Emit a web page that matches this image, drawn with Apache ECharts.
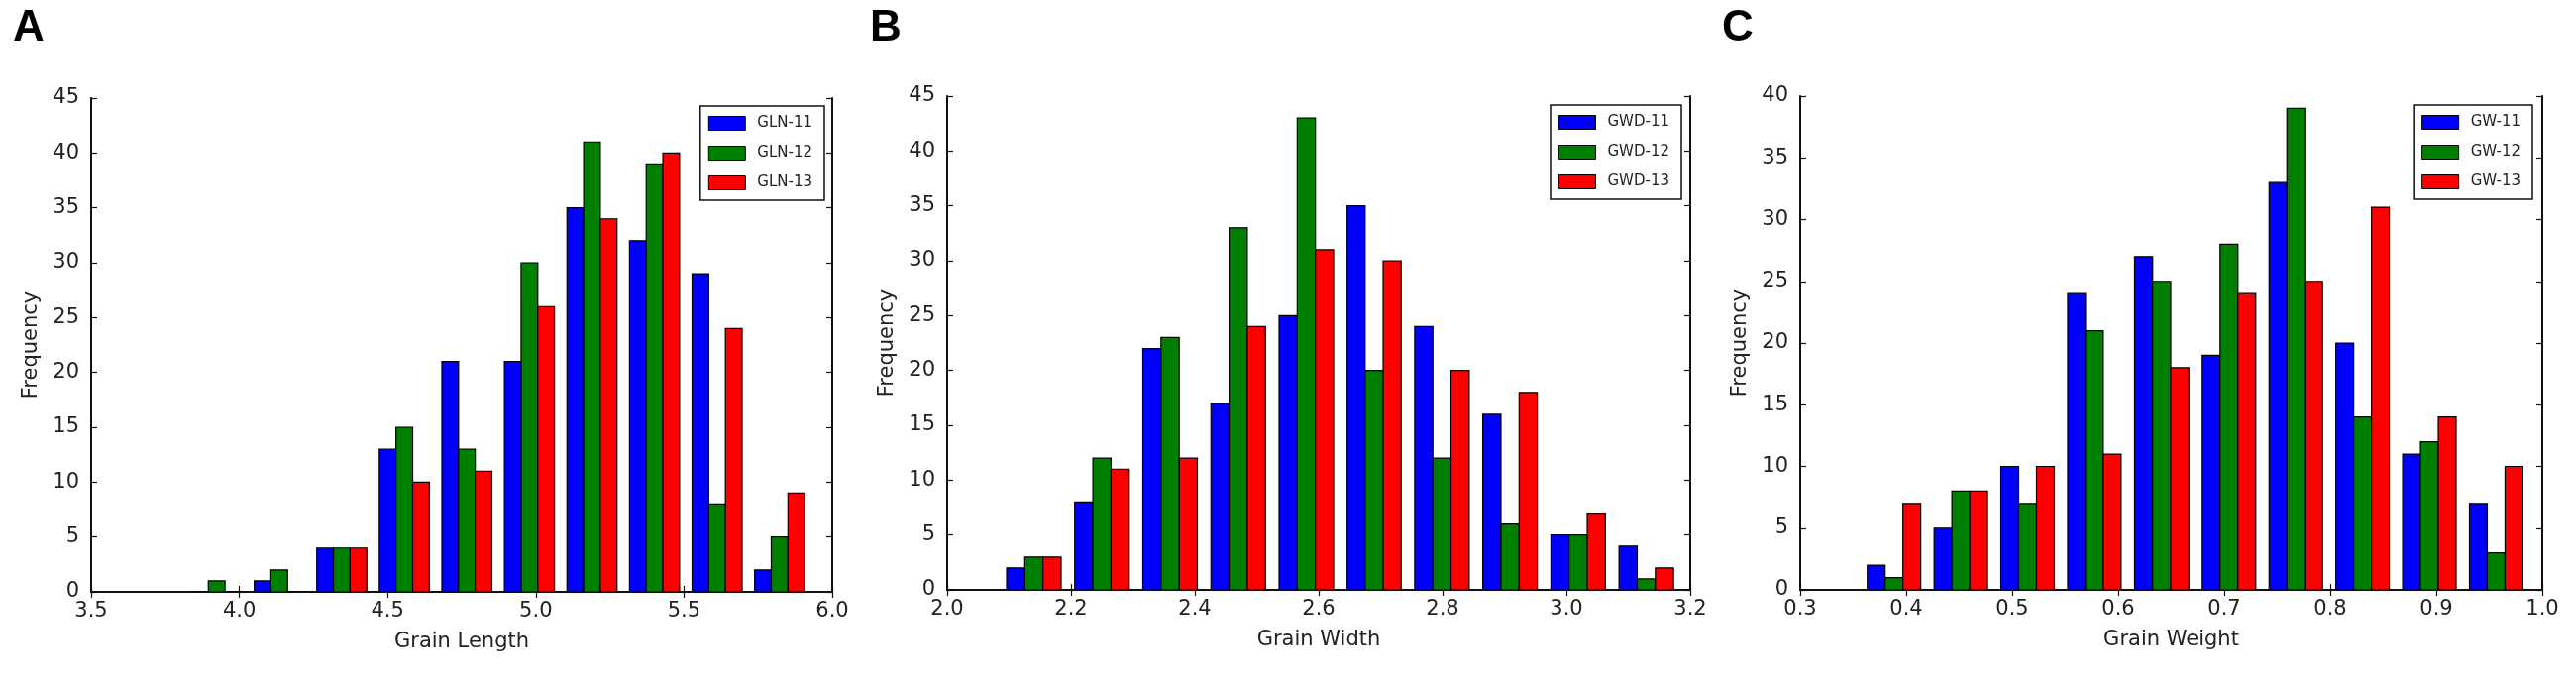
<!DOCTYPE html>
<html>
<head>
<meta charset="utf-8">
<script src="https://cdn.jsdelivr.net/npm/echarts@6/dist/echarts.min.js"></script>
<style>html,body{margin:0;padding:0;background:#fff;}#c{width:2600px;height:696px;}</style>
</head>
<body>
<div id="c"></div>
<script>
// ---- Data ----
const lengthEdges = [3.818, 4.029, 4.240, 4.451, 4.662, 4.873, 5.084, 5.295, 5.506, 5.717, 5.928];
const GLN11 = [0, 1, 4, 13, 21, 21, 35, 32, 29, 2];
const GLN12 = [1, 2, 4, 15, 13, 30, 41, 39, 8, 5];
const GLN13 = [0, 0, 4, 10, 11, 26, 34, 40, 24, 9];

const widthEdges = [2.085, 2.195, 2.305, 2.415, 2.525, 2.635, 2.744, 2.854, 2.964, 3.074, 3.184];
const GWD11 = [2, 8, 22, 17, 25, 35, 24, 16, 5, 4];
const GWD12 = [3, 12, 23, 33, 43, 20, 12, 6, 5, 1];
const GWD13 = [3, 11, 12, 24, 31, 30, 20, 18, 7, 2];

const weightEdges = [0.357, 0.420, 0.483, 0.546, 0.609, 0.673, 0.736, 0.799, 0.862, 0.925, 0.988];
const GW11 = [2, 5, 10, 24, 27, 19, 33, 20, 11, 7];
const GW12 = [1, 8, 7, 21, 25, 28, 39, 14, 12, 3];
const GW13 = [7, 8, 10, 11, 18, 24, 25, 31, 14, 10];

const panelLetters = ['A', 'B', 'C'];
const xNames = ['Grain Length', 'Grain Width', 'Grain Weight'];
const yName = 'Frequency';
const xRanges = [[3.5, 6.0, 0.5], [2.0, 3.2, 0.2], [0.3, 1.0, 0.1]];
const yRanges = [[0, 45, 5], [0, 45, 5], [0, 40, 5]];
const seriesNames = [['GLN-11', 'GLN-12', 'GLN-13'], ['GWD-11', 'GWD-12', 'GWD-13'], ['GW-11', 'GW-12', 'GW-13']];
const seriesValues = [[GLN11, GLN12, GLN13], [GWD11, GWD12, GWD13], [GW11, GW12, GW13]];
const binEdges = [lengthEdges, widthEdges, weightEdges];

// ---- Layout / style ----
const colors = ['#0000ff', '#008000', '#ff0000'];
const grids = [
  {left: 92, right: 1760, top: 99, bottom: 99},
  {left: 956, right: 894, top: 97, bottom: 101},
  {left: 1817, right: 34, top: 97, bottom: 101}
];
const legendPos = [{right: 1768, top: 107}, {right: 903, top: 106}, {right: 44, top: 106}];
const letterPos = [8, 873, 1733];
const font = 'DejaVu Sans';
const txt = '#222';

function renderItem(params, api) {
  const x0 = api.value(0), x1 = api.value(1), y = api.value(2), s = api.value(3);
  const w = x1 - x0;
  const a = x0 + w * (0.1 + 0.8 * s / 3);
  const b = a + w * 0.8 / 3;
  const p0 = api.coord([a, y]);
  const p1 = api.coord([b, 0]);
  return {
    type: 'rect',
    shape: {x: p0[0], y: p0[1], width: p1[0] - p0[0], height: p1[1] - p0[1]},
    style: {fill: api.visual('color'), stroke: '#000', lineWidth: 1.2}
  };
}

const xAxes = [], yAxes = [], series = [], legends = [], titles = [];
for (let p = 0; p < 3; p++) {
  const [xmin, xmax, xint] = xRanges[p];
  const [ymin, ymax, yint] = yRanges[p];
  const line = {show: true, lineStyle: {color: '#111', width: 2}};
  const tick = {show: true, inside: true, length: 6, lineStyle: {color: '#111', width: 1.2}};
  xAxes.push({
    type: 'value', gridIndex: p, position: 'bottom', min: xmin, max: xmax, interval: xint,
    axisLine: line, axisTick: tick, splitLine: {show: false},
    axisLabel: {color: txt, fontFamily: font, fontSize: 21, margin: 9, formatter: v => v.toFixed(1)},
    name: xNames[p], nameLocation: 'middle', nameGap: 40,
    nameTextStyle: {color: txt, fontFamily: font, fontSize: 21}
  });
  xAxes.push({
    type: 'value', gridIndex: p, position: 'top', min: xmin, max: xmax, interval: xint,
    axisLine: line, axisTick: tick, splitLine: {show: false}, axisLabel: {show: false}
  });
  yAxes.push({
    type: 'value', gridIndex: p, position: 'left', min: ymin, max: ymax, interval: yint,
    axisLine: line, axisTick: tick, splitLine: {show: false},
    axisLabel: {color: txt, fontFamily: font, fontSize: 21, margin: 12},
    name: yName, nameLocation: 'middle', nameGap: 50,
    nameTextStyle: {color: txt, fontFamily: font, fontSize: 21}
  });
  yAxes.push({
    type: 'value', gridIndex: p, position: 'right', min: ymin, max: ymax, interval: yint,
    axisLine: line, axisTick: tick, splitLine: {show: false}, axisLabel: {show: false}
  });
  for (let s = 0; s < 3; s++) {
    const vals = seriesValues[p][s];
    const edges = binEdges[p];
    const data = vals.map((v, i) => [edges[i], edges[i + 1], v, s]);
    series.push({
      type: 'custom', name: seriesNames[p][s], xAxisIndex: p * 2, yAxisIndex: p * 2,
      renderItem: renderItem, encode: {x: [0, 1], y: 2}, data: data,
      itemStyle: {color: colors[s]}, silent: true, clip: true
    });
  }
  legends.push(Object.assign({
    orient: 'vertical', data: seriesNames[p].map(n => ({name: n, icon: 'rect', itemStyle: {borderColor: '#000', borderWidth: 1}})),
    itemWidth: 37, itemHeight: 14, itemGap: 15, padding: [10, 12, 10, 8],
    backgroundColor: '#fff', borderColor: '#111', borderWidth: 1.5,
    textStyle: {color: txt, fontFamily: font, fontSize: 15, padding: [0, 0, 0, 7]},
    selectedMode: false
  }, legendPos[p]));
  titles.push({
    text: panelLetters[p], left: letterPos[p], top: 2,
    textStyle: {fontFamily: 'Liberation Sans', fontWeight: 'bold', fontSize: 44, color: '#000'}
  });
}

const chart = echarts.init(document.getElementById('c'), null, {renderer: 'canvas'});
chart.setOption({
  backgroundColor: '#fff',
  animation: false,
  title: titles,
  grid: grids,
  xAxis: xAxes,
  yAxis: yAxes,
  legend: legends,
  series: series
});
</script>
</body>
</html>
